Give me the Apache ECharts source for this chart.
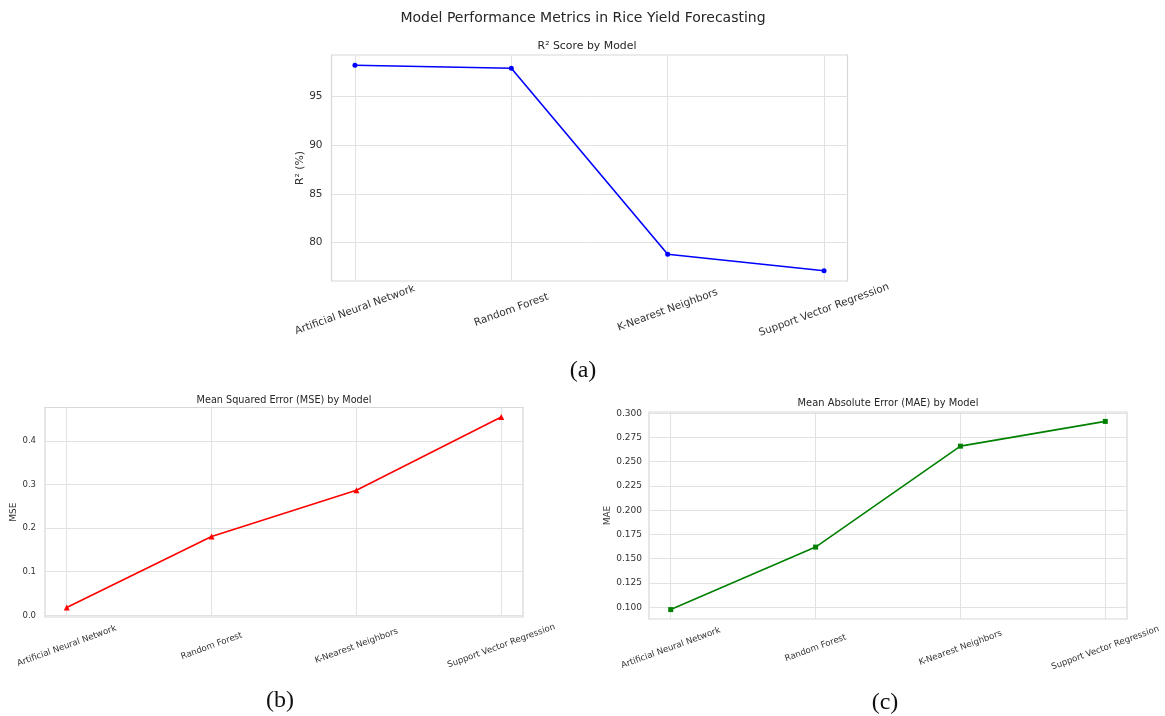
<!DOCTYPE html>
<html>
<head>
<meta charset="utf-8">
<script src="https://cdn.jsdelivr.net/npm/echarts@6/dist/echarts.min.js"></script>
<style>
html,body{margin:0;padding:0;background:#fff;}
#chart{width:1165px;height:716px;}
</style>
</head>
<body>
<div id="chart"></div>
<script>
// ---- data ----
const categories = ['Artificial Neural Network', 'Random Forest', 'K-Nearest Neighbors', 'Support Vector Regression'];
const r2Values = [98.2, 97.9, 78.8, 77.1];
const mseValues = [0.018, 0.181, 0.287, 0.455];
const maeValues = [0.0976, 0.162, 0.266, 0.2915];
const r2Ticks = [80, 85, 90, 95];
const mseTicks = [0.0, 0.1, 0.2, 0.3, 0.4];
const maeTicks = [0.100, 0.125, 0.150, 0.175, 0.200, 0.225, 0.250, 0.275, 0.300];
const xTicks = [0, 1, 2, 3];

const mainTitle = 'Model Performance Metrics in Rice Yield Forecasting';
const subTitles = ['R² Score by Model', 'Mean Squared Error (MSE) by Model', 'Mean Absolute Error (MAE) by Model'];
const yNames = ['R² (%)', 'MSE', 'MAE'];
const panelLabels = ['(a)', '(b)', '(c)'];

// ---- helpers ----
const FONT = 'DejaVu Sans';
const TXT = '#333333';
const GRIDC = '#e2e2e2';
function lims(vals) {
  const mn = Math.min.apply(null, vals), mx = Math.max.apply(null, vals);
  const m = (mx - mn) * 0.05;
  return { min: mn - m, max: mx + m };
}
function pairs(vals) { return vals.map((v, i) => [i, v]); }

const grids = [
  { left: 331.5, top: 55, width: 516, height: 226 },
  { left: 45, top: 407.5, width: 478, height: 209.5 },
  { left: 649, top: 412, width: 478, height: 207 }
];
const fs = [10.4, 8.6, 8.6];
const yfs = [10.5, 8.5, 9];
const nameGaps = [26, 24, 37];
const yTicksAll = [r2Ticks, mseTicks, maeTicks];
const yFmt = [v => String(Math.round(v)), v => v.toFixed(1), v => v.toFixed(3)];
const valsAll = [r2Values, mseValues, maeValues];
const colors = ['#0000ff', '#ff0000', '#008000'];
const symbols = ['circle', 'triangle', 'rect'];
const symSizes = [5, 6, 5];

const xAxes = grids.map((g, i) => ({
  type: 'value', gridIndex: i, min: -0.15, max: 3.15,
  axisLine: { show: false },
  axisTick: { show: false, customValues: xTicks },
  splitLine: { show: true, lineStyle: { color: GRIDC, width: 1 } },
  axisLabel: {
    customValues: xTicks,
    formatter: v => categories[Math.round(v)],
    rotate: 20, align: 'center', verticalAlign: 'middle',
    margin: i === 0 ? 29 : 29,
    fontSize: fs[i], fontFamily: FONT, color: TXT
  }
}));

const yAxes = grids.map((g, i) => {
  const l = lims(valsAll[i]);
  return {
    type: 'value', gridIndex: i, min: l.min, max: l.max,
    name: yNames[i], nameLocation: 'middle', nameGap: nameGaps[i], nameRotate: 90,
    nameTextStyle: { fontSize: fs[i] + 0.4, fontFamily: FONT, color: TXT },
    axisLine: { show: false },
    axisTick: { show: false, customValues: yTicksAll[i] },
    splitLine: { show: true, lineStyle: { color: GRIDC, width: 1 } },
    axisLabel: {
      customValues: yTicksAll[i], formatter: yFmt[i], margin: i === 2 ? 7 : 9,
      fontSize: yfs[i], fontFamily: FONT, color: TXT
    }
  };
});

const series = valsAll.map((vals, i) => ({
  type: 'line', xAxisIndex: i, yAxisIndex: i,
  data: pairs(vals),
  symbol: symbols[i], symbolSize: symSizes[i], showSymbol: true,
  itemStyle: { color: colors[i] },
  lineStyle: { color: colors[i], width: 1.6 },
  z: 5
}));

function txt(x, y, text, size, family, color) {
  return {
    type: 'text', x: x, y: y, z: 100,
    style: {
      text: text, fontSize: size, fontFamily: family, fill: color,
      align: 'center', verticalAlign: 'middle',
      textAlign: 'center', textVerticalAlign: 'middle'
    }
  };
}

const graphics = [
  txt(583, 18, mainTitle, 14, FONT, '#262626'),
  txt(587, 46, subTitles[0], 10.9, FONT, '#262626'),
  txt(284, 400, subTitles[1], 9.7, FONT, '#262626'),
  txt(888, 403.5, subTitles[2], 9.9, FONT, '#262626'),
  txt(583, 371, panelLabels[0], 24, 'Liberation Serif', '#111111'),
  txt(280, 701, panelLabels[1], 24, 'Liberation Serif', '#111111'),
  txt(885, 703, panelLabels[2], 24, 'Liberation Serif', '#111111')
];

const chart = echarts.init(document.getElementById('chart'), null, { renderer: 'canvas' });
chart.setOption({
  animation: false,
  backgroundColor: '#ffffff',
  grid: grids.map(g => Object.assign({ show: true, borderColor: '#d8d8d8', borderWidth: 1.2, backgroundColor: 'transparent' }, g)),
  xAxis: xAxes,
  yAxis: yAxes,
  series: series,
  graphic: graphics
});
</script>
</body>
</html>
